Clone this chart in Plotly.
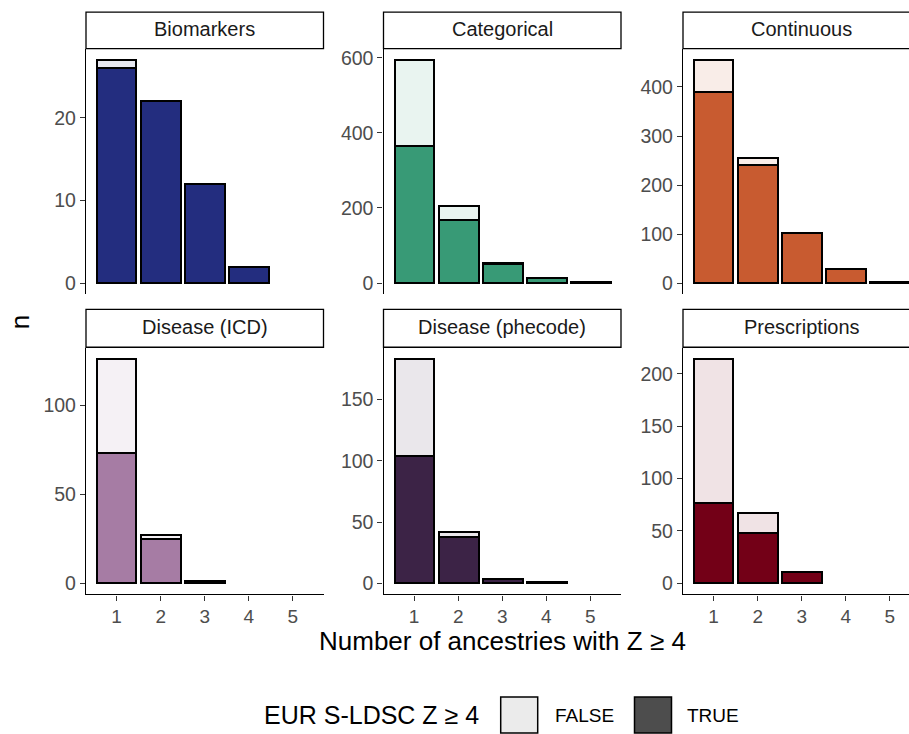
import plotly.graph_objects as go

# ---- data -------------------------------------------------------------
panels = ["Biomarkers", "Categorical", "Continuous",
          "Disease (ICD)", "Disease (phecode)", "Prescriptions"]
n_ancestries = [1, 2, 3, 4, 5]

# None = no studies in that group (no bar drawn)
biomarkers_true = [26, 22, 12, 2, None]
biomarkers_false = [1, None, None, None, None]
categorical_true = [366, 168, 52, 13, 2]
categorical_false = [228, 38, 2, None, None]
continuous_true = [390, 241, 102, 28, 3]
continuous_false = [65, 15, None, None, None]
icd_true = [73, 25, 1, None, None]
icd_false = [53, 2, None, None, None]
phecode_true = [104, 38, 3, 1, None]
phecode_false = [79, 4, None, None, None]
prescriptions_true = [77, 48, 11, None, None]
prescriptions_false = [137, 19, None, None, None]

true_series = [biomarkers_true, categorical_true, continuous_true,
               icd_true, phecode_true, prescriptions_true]
false_series = [biomarkers_false, categorical_false, continuous_false,
                icd_false, phecode_false, prescriptions_false]

y_dticks = [10, 200, 100, 50, 50, 50]

# ---- style ------------------------------------------------------------
base_colors = ["#232D7F", "#389A76", "#C85B30", "#A67CA4", "#3C2346", "#730017"]
FONT = "Liberation Sans, Arial, Helvetica, sans-serif"
W, H = 909, 734


def tint(hex_color, alpha):
    h = hex_color.lstrip("#")
    r, g, b = (int(h[i:i + 2], 16) for i in (0, 2, 4))
    mix = lambda c: round(255 - alpha * (255 - c))
    return "#{:02X}{:02X}{:02X}".format(mix(r), mix(g), mix(b))


# panel geometry in pixels
col_x = [(86, 323.5), (383.5, 621), (683, 920.5)]
row_y = [(47, 293), (347, 594)]          # plot area top/bottom
strip_y = [(10.2, 46.7), (308.3, 346.2)]  # strip top/bottom
x_full = (0.305, 5.695)

fig = go.Figure()
shapes, annotations = [], []

for i, name in enumerate(panels):
    r, c = divmod(i, 3)
    ax = "" if i == 0 else str(i + 1)
    xref, yref = "x" + ax, "y" + ax

    fig.add_trace(go.Bar(
        x=n_ancestries, y=true_series[i], width=0.9,
        marker=dict(color=base_colors[i], line=dict(color="black", width=2)),
        xaxis=xref, yaxis=yref, showlegend=False, name="TRUE"))
    fig.add_trace(go.Bar(
        x=n_ancestries, y=false_series[i], width=0.9,
        marker=dict(color=tint(base_colors[i], 0.11), line=dict(color="black", width=2)),
        xaxis=xref, yaxis=yref, showlegend=False, name="FALSE"))

    x0, x1 = col_x[c]
    x1_vis = min(x1, W)
    xr_hi = x_full[0] + (x1_vis - x0) / (x1 - x0) * (x_full[1] - x_full[0])
    yt, yb = row_y[r]

    totals = [(a or 0) + (b or 0) for a, b in zip(true_series[i], false_series[i])]
    ymax = max(totals)

    bottom = r == 1
    fig.layout["xaxis" + ax] = dict(
        domain=[x0 / W, x1_vis / W], anchor=yref,
        range=[x_full[0], xr_hi], tickvals=n_ancestries,
        showline=bottom, linecolor="black", linewidth=1.3,
        ticks="outside" if bottom else "", ticklen=5, tickcolor="#333333", tickwidth=1.3,
        showticklabels=bottom, tickfont=dict(family=FONT, size=19, color="#4D4D4D"),
        showgrid=False, zeroline=False, fixedrange=True)
    fig.layout["yaxis" + ax] = dict(
        domain=[1 - yb / H, 1 - yt / H], anchor=xref,
        range=[-0.05 * ymax, 1.05 * ymax], tick0=0, dtick=y_dticks[i],
        showline=True, linecolor="black", linewidth=1.3,
        ticks="outside", ticklen=5, tickcolor="#333333", tickwidth=1.3,
        tickfont=dict(family=FONT, size=19.5, color="#4D4D4D"),
        showgrid=False, zeroline=False, fixedrange=True)

    # facet strip
    sy0, sy1 = strip_y[r]
    shapes.append(dict(type="rect", xref="paper", yref="paper",
                       x0=x0 / W, x1=x1 / W, y0=1 - sy1 / H, y1=1 - sy0 / H,
                       line=dict(color="black", width=1.3), fillcolor="white"))
    annotations.append(dict(text=name, xref="paper", yref="paper",
                            x=(x0 + x1) / 2 / W, y=1 - ((sy0 + sy1) / 2 - 1.5) / H,
                            xanchor="center", yanchor="middle", showarrow=False,
                            font=dict(family=FONT, size=20, color="#1A1A1A")))

# axis titles
annotations.append(dict(text="Number of ancestries with Z ≥ 4", xref="paper", yref="paper",
                        x=503 / W, y=1 - 641 / H, xanchor="center", yanchor="middle",
                        showarrow=False, font=dict(family=FONT, size=26, color="black")))
annotations.append(dict(text="n", xref="paper", yref="paper", textangle=-90,
                        x=20 / W, y=1 - 321 / H, xanchor="center", yanchor="middle",
                        showarrow=False, font=dict(family=FONT, size=26, color="black")))

# legend
annotations.append(dict(text="EUR S-LDSC Z ≥ 4", xref="paper", yref="paper",
                        x=262 / W, y=1 - 715 / H, xanchor="left", yanchor="middle",
                        showarrow=False, font=dict(family=FONT, size=25, color="black")))
legend_items = [("FALSE", "#EBEBEB", 500.7, 553), ("TRUE", "#4D4D4D", 634.5, 685)]
for label, fill, bx, tx in legend_items:
    shapes.append(dict(type="rect", xref="paper", yref="paper",
                       x0=bx / W, x1=(bx + 37) / W, y0=1 - 733 / H, y1=1 - 697 / H,
                       line=dict(color="black", width=1.5), fillcolor=fill))
    annotations.append(dict(text=label, xref="paper", yref="paper",
                            x=tx / W, y=1 - 715 / H, xanchor="left", yanchor="middle",
                            showarrow=False, font=dict(family=FONT, size=19, color="black")))

fig.update_layout(
    barmode="stack", bargap=0,
    width=W, height=H, margin=dict(l=0, r=0, t=0, b=0),
    paper_bgcolor="white", plot_bgcolor="white",
    font=dict(family=FONT), shapes=shapes, annotations=annotations,
    showlegend=False)

fig.write_html("out.html", config={"displayModeBar": False})
